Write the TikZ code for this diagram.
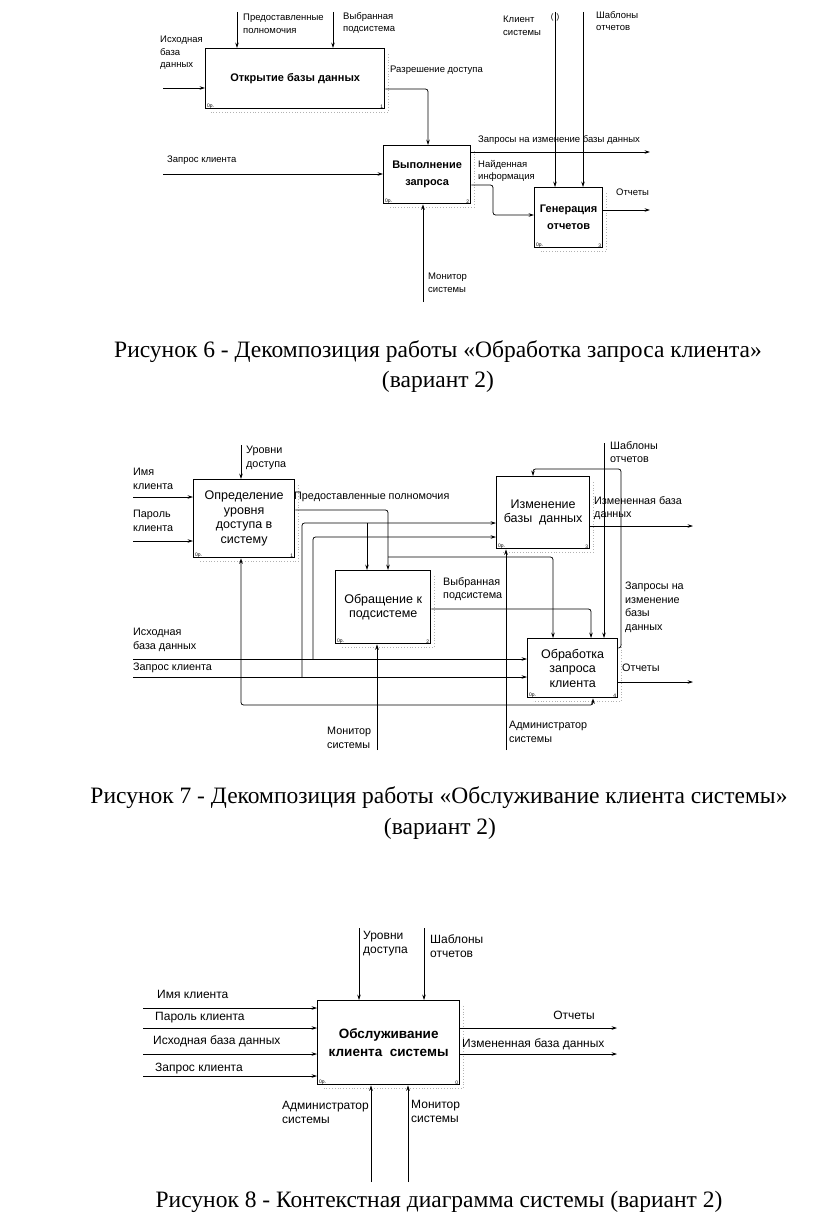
\documentclass[tikz,border=0pt]{standalone}
\usepackage{fontspec}
\setmainfont{Liberation Serif}
\newfontfamily\dsans{Liberation Sans}
\usetikzlibrary{arrows.meta,calc}
\newcommand\fsixlbl{\dsans\fontsize{9.5}{12.5}\selectfont}
\newcommand\fsixbox{\dsans\bfseries\fontsize{11}{17}\selectfont}
\newcommand\fsevlbl{\dsans\fontsize{10.8}{13.5}\selectfont}
\newcommand\fsevbox{\dsans\fontsize{12.5}{14.5}\selectfont}
\newcommand\feightlbl{\dsans\fontsize{12}{14}\selectfont}
\newcommand\feightbox{\dsans\bfseries\fontsize{13.5}{18}\selectfont}
\newcommand\idshade[1]{\draw[shd] ($(#1.north east)+(3,6)$) -- ($(#1.south east)+(3,3)$) -- ($(#1.south west)+(6,3)$);}
\newcommand\idcorner[2]{\node[crn, anchor=south west] (#1-op) at ($(#1.south west)+(2,-1)$) {0р.};
  \node[crn, anchor=south east] (#1-no) at ($(#1.south east)+(-2,-1)$) {#2};}
\tikzset{
  idefbox/.style={draw, line width=1.3pt, anchor=north west, inner sep=0pt, align=center},
  arr/.style={line width=0.75pt, -{Stealth[length=5.5pt,width=3.6pt]}, rounded corners=2.5pt},
  ln/.style={line width=0.75pt, rounded corners=2.5pt},
  shd/.style={gray!60, dotted, line width=0.8pt},
  crn/.style={font=\dsans\fontsize{5}{6}\selectfont, inner sep=0pt},
  lbl6/.style={font=\fsixlbl, align=left, inner sep=0pt, anchor=north west},
  lbl7/.style={font=\fsevlbl, align=left, inner sep=0pt, anchor=north west},
  lbl8/.style={font=\feightlbl, align=left, inner sep=0pt, anchor=north west},
  captxt/.style={font=\fontsize{23.5}{28}\selectfont, inner sep=0pt}
}
\begin{document}
\begin{tikzpicture}[x=1pt,y=-1pt]
\useasboundingbox (0,0) rectangle (816,1223);

% ================= Figure 6 =================
\node[idefbox, minimum width=179pt, minimum height=60pt, font=\fsixbox] (b1) at (205,48) {Открытие базы данных};
\node[idefbox, minimum width=87pt, minimum height=58pt, font=\fsixbox] (b2) at (383,145) {Выполнение\\запроса};
\node[idefbox, minimum width=68pt, minimum height=60pt, font=\fsixbox] (b3) at (534,187) {Генерация\\отчетов};
\idshade{b1}\idshade{b2}\idshade{b3}
\idcorner{b1}{1}\idcorner{b2}{2}\idcorner{b3}{3}

\coordinate (s6in1) at (163,88);
\coordinate (s6in2) at (163,174);
\coordinate (s6c1) at (237,12);
\coordinate (s6c2) at (333,12);
\coordinate (s6c3) at (555,12);
\coordinate (s6c4) at (583,12);
\coordinate (s6m1) at (423,302);
\coordinate (s6o1) at (650,152);
\coordinate (s6o2) at (650,210);

\draw[arr] (s6in1) -- (s6in1 -| b1.west);
\draw[arr] (s6c1) -- (s6c1 |- b1.north);
\draw[arr] (s6c2) -- (s6c2 |- b1.north);
\draw[arr] (b1.east |- 0,89) -- (428,89) -- (428,0 |- b2.north);
\draw[arr] (s6in2) -- (s6in2 -| b2.west);
\draw[arr] (s6m1) -- (s6m1 |- b2.south);
\draw[arr] (b2.east |- s6o1) -- (s6o1);
\draw[arr] (b2.east |- 0,185) -- (493,185) -- (493,215) -- (b3.west |- 0,215);
\draw[arr] (s6c3) -- (s6c3 |- b3.north);
\draw[arr] (s6c4) -- (s6c4 |- b3.north);
\draw[arr] (b3.east |- s6o2) -- (s6o2);
\node[font=\dsans\fontsize{8}{8}\selectfont, inner sep=0pt] (tun) at (555,17) {(\hspace{3pt})};

\node[lbl6] (l6a) at (160,36) {Исходная\\база\\данных};
\node[lbl6] (l6b) at (243,14) {Предоставленные\\полномочия};
\node[lbl6] (l6c) at (343,12) {Выбранная\\подсистема};
\node[lbl6] (l6d) at (390,66) {Разрешение доступа};
\node[lbl6] (l6e) at (167,156) {Запрос клиента};
\node[lbl6] (l6f) at (428,273) {Монитор\\системы};
\node[lbl6] (l6g) at (478,135) {Запросы на изменение базы данных};
\node[lbl6] (l6h) at (478,160) {Найденная\\информация};
\node[lbl6] (l6i) at (503,16) {Клиент\\системы};
\node[lbl6] (l6j) at (596,11) {Шаблоны\\отчетов};
\node[lbl6] (l6k) at (616,189) {Отчеты};

\node[captxt] (cap6a) at (438,352) {Рисунок 6 - Декомпозиция работы «Обработка запроса клиента»};
\node[captxt] (cap6b) at (438,382) {(вариант 2)};

% ================= Figure 7 =================
\node[idefbox, minimum width=101pt, minimum height=78pt, font=\fsevbox] (A) at (193,479) {Определение\\уровня\\доступа в\\систему};
\node[idefbox, minimum width=95pt, minimum height=73pt, font=\fsevbox] (B) at (335,570) {Обращение к\\подсистеме};
\node[idefbox, minimum width=93pt, minimum height=72pt, font=\fsevbox] (E) at (496,476) {Изменение\\базы~~данных};
\node[idefbox, minimum width=90pt, minimum height=59pt, font=\fsevbox] (D) at (527,638) {Обработка\\запроса\\клиента};
\idshade{A}\idshade{B}\idshade{E}\idshade{D}
\idcorner{A}{1}\idcorner{B}{2}\idcorner{E}{3}\idcorner{D}{4}

\coordinate (s7in1) at (133,497);
\coordinate (s7in2) at (133,541);
\coordinate (s7c1) at (241,445);
\coordinate (s7isx) at (133,659);
\coordinate (s7zap) at (133,677);
\coordinate (s7shab) at (604,443);
\coordinate (s7mon) at (377,750);
\coordinate (s7adm) at (506,750);
\coordinate (s7o1) at (693,526);
\coordinate (s7o2) at (693,682);

\draw[arr] (s7in1) -- (s7in1 -| A.west);
\draw[arr] (s7in2) -- (s7in2 -| A.west);
\draw[arr] (s7c1) -- (s7c1 |- A.north);
% Предоставленные полномочия
\draw[arr] (A.east |- 0,510) -- (388,510) -- (388,0 |- B.north);
\draw[arr] (388,557) -- (553,557) -- (553,0 |- D.north);
% Запрос клиента
\draw[arr] (s7zap) -- (s7zap -| D.west);
\draw[arr] (302,677) -- (302,523) -- (E.west |- 0,523);
\draw[arr] (367,523) -- (367,0 |- B.north);
% Исходная база данных
\draw[arr] (s7isx) -- (s7isx -| D.west);
\draw[arr] (313,659) -- (313,537) -- (E.west |- 0,537);
% Выбранная подсистема
\draw[arr] (B.east |- 0,609) -- (591,609) -- (591,0 |- D.north);
% Шаблоны отчетов
\draw[arr] (s7shab) -- (s7shab |- D.north);
% Запросы на изменение
\draw[arr] (D.east |- 0,648) -- (621,648) -- (621,469) -- (533,469) -- (533,0 |- E.north);
% outputs
\draw[arr] (E.east |- s7o1) -- (s7o1);
\draw[arr] (D.east |- s7o2) -- (s7o2);
% Монитор системы
\draw[arr] (s7mon) -- (s7mon |- B.south);
\draw[arr] (377,705) -- (241,705) -- (241,0 |- A.south);
\draw[arr] (377,705) -- (593,705) -- (593,0 |- D.south);
% Администратор системы
\draw[arr] (s7adm) -- (s7adm |- E.south);

\node[lbl7] (l7a) at (133,468) {Имя\\клиента};
\node[lbl7] (l7b) at (133,510) {Пароль\\клиента};
\node[lbl7] (l7c) at (246,446) {Уровни\\доступа};
\node[lbl7] (l7d) at (294,492) {Предоставленные полномочия};
\node[lbl7] (l7e) at (594,496) {Измененная база\\данных};
\node[lbl7] (l7f) at (610,441) {Шаблоны\\отчетов};
\node[lbl7] (l7g) at (443,577) {Выбранная\\подсистема};
\node[lbl7] (l7h) at (625,582) {Запросы на\\изменение\\базы\\данных};
\node[lbl7] (l7i) at (622,664) {Отчеты};
\node[lbl7] (l7j) at (133,628) {Исходная\\база данных};
\node[lbl7] (l7k) at (133,663) {Запрос клиента};
\node[lbl7] (l7l) at (327,727) {Монитор\\системы};
\node[lbl7] (l7m) at (509,721) {Администратор\\системы};

\node[captxt] (cap7a) at (439,798) {Рисунок 7 - Декомпозиция работы «Обслуживание клиента системы»};
\node[captxt] (cap7b) at (440,829) {(вариант 2)};

% ================= Figure 8 =================
\node[idefbox, minimum width=142pt, minimum height=84pt, font=\feightbox] (F) at (317,1000) {Обслуживание\\клиента~~системы};
\idshade{F}
\node[crn, anchor=south west] (F-op) at ($(F.south west)+(2,-1)$) {0р.};
\node[crn, anchor=south east] (F-no) at ($(F.south east)+(-2,-1)$) {0};

\coordinate (s8i1) at (143,1008);
\coordinate (s8i2) at (143,1028);
\coordinate (s8i3) at (143,1054);
\coordinate (s8i4) at (143,1076);
\coordinate (s8c1) at (359,928);
\coordinate (s8c2) at (424,928);
\coordinate (s8m1) at (371,1182);
\coordinate (s8m2) at (408,1182);
\coordinate (s8o1) at (617,1028);
\coordinate (s8o2) at (617,1054);

\draw[arr] (s8i1) -- (s8i1 -| F.west);
\draw[arr] (s8i2) -- (s8i2 -| F.west);
\draw[arr] (s8i3) -- (s8i3 -| F.west);
\draw[arr] (s8i4) -- (s8i4 -| F.west);
\draw[arr] (s8c1) -- (s8c1 |- F.north);
\draw[arr] (s8c2) -- (s8c2 |- F.north);
\draw[arr] (s8m1) -- (s8m1 |- F.south);
\draw[arr] (s8m2) -- (s8m2 |- F.south);
\draw[arr] (F.east |- s8o1) -- (s8o1);
\draw[arr] (F.east |- s8o2) -- (s8o2);

\node[lbl8] (l8a) at (157,990) {Имя клиента};
\node[lbl8] (l8b) at (155,1012) {Пароль клиента};
\node[lbl8] (l8c) at (153,1035) {Исходная база данных};
\node[lbl8] (l8d) at (155,1063) {Запрос клиента};
\node[lbl8] (l8e) at (363,931) {Уровни\\доступа};
\node[lbl8] (l8f) at (430,934) {Шаблоны\\отчетов};
\node[lbl8, anchor=north east] (l8g) at (595,1011) {Отчеты};
\node[lbl8] (l8h) at (462,1038) {Измененная база данных};
\node[lbl8, anchor=north east] (l8i) at (369,1101) {Администратор\\системы};
\node[lbl8] (l8j) at (411,1100) {Монитор\\системы};

\node[captxt] (cap8) at (439,1202) {Рисунок 8 - Контекстная диаграмма системы (вариант 2)};
\end{tikzpicture}
\end{document}
